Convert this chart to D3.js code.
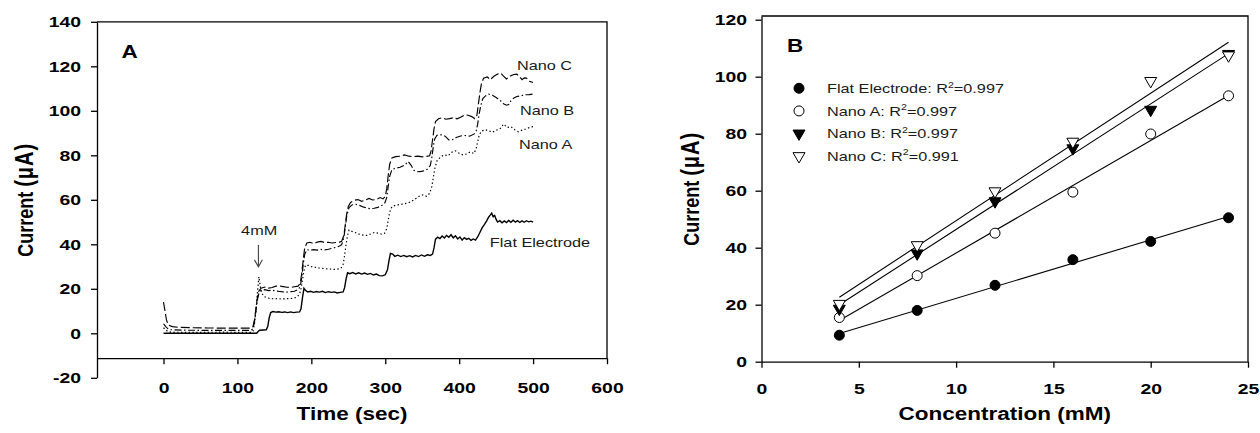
<!DOCTYPE html>
<html>
<head>
<meta charset="utf-8">
<script src="https://d3js.org/d3.v7.min.js"></script>
<style>
  body { margin: 0; background: #fff; }
  svg { display: block; font-family: "Liberation Sans", Arial, Helvetica, sans-serif; }
  .axis text { font-size: 15.5px; font-weight: bold; fill: #000; }
  .axis path, .axis line { stroke: #000; stroke-width: 1.3; }
  .title { font-size: 18px; font-weight: bold; }
  .note { font-size: 13px; fill: #1a1a1a; }
</style>
</head>
<body>
<div id="viz"></div>
<script>
// ---- panel A : current vs time traces, [time (s), current (uA)] ----
const flatTrace = [[0,0],[126,0],[128,0.8],[130,1.4],[135,1.5],[139,1.6],[141,3],[143,7],[145,9.3],[148,9.8],
  [152,9.5],[156,9.7],[160,9.4],[164,9.6],[168,9.3],[172,9.6],[176,9.3],[180,9.5],[184,9.6],[186,11],
  [188,16],[190,20.2],[192,19.3],[195,18.6],[199,18.9],[203,18.4],[207,18.8],[211,18.5],[215,18.9],[219,18.3],
  [223,18.7],[227,18.4],[231,18.6],[235,18.1],[239,18.4],[243,18.6],[245,20.5],[247,24.5],[249,27.2],[252,26.8],
  [256,27.3],[260,26.7],[264,27.2],[268,26.6],[272,27.1],[276,26.5],[280,26.9],[284,26.2],[288,26.6],[292,25.9],
  [296,25.8],[300,26.3],[303,28.5],[305,32.5],[307,35.9],[310,35.6],[313,34.6],[317,35.1],[321,34.5],[325,35.0],
  [329,34.4],[333,34.9],[337,34.3],[341,35.0],[345,34.5],[349,35.2],[353,34.6],[357,35.3],[361,35.0],[364,35.6],
  [366,38.5],[368,42.3],[371,43.2],[374,42.6],[377,43.7],[380,42.8],[383,44.0],[386,43.2],[389,44.3],[392,42.9],
  [395,43.8],[398,42.4],[401,43.3],[404,41.9],[407,43.0],[410,42.2],[413,42.7],[416,41.8],[419,42.4],[422,41.9],
  [425,43.3],[428,45.3],[431,47.4],[434,48.8],[437,50.4],[440,52.3],[442,53.1],[444,54.0],[446,52.4],[448,53.0],
  [450,51.2],[452,50.0],[455,50.6],[458,49.7],[461,50.5],[464,49.8],[467,50.7],[470,49.9],[473,50.8],[476,50.0],
  [479,50.6],[482,49.8],[485,50.5],[488,49.9],[491,50.6],[494,50.1],[497,50.4],[500,50.0]];

const nanoATrace = [[0,2.5],[3,1.5],[6,0.8],[10,0.5],[40,0.4],[80,0.5],[118,0.4],[121,1],[123,4],[125,10],
  [127,18],[129,25.4],[131,21],[133,18],[136,16.5],[140,16.0],[145,15.6],[150,15.5],[155,15.6],[160,15.4],
  [165,15.5],[170,15.6],[175,15.7],[180,16.2],[184,17.5],[186,20],[188,24],[190,28],[192,30.6],[196,30.5],
  [200,30.0],[205,29.7],[210,29.4],[215,29.2],[220,29.0],[225,28.9],[230,28.7],[235,28.8],[240,29.2],[243,31],
  [245,35],[247,40],[249,44],[251,46.4],[255,45.8],[260,45.2],[265,44.5],[270,44.1],[275,44.0],[280,44.6],
  [285,45.3],[290,45.0],[295,44.6],[299,45.0],[302,47],[304,51],[306,54.5],[309,56.9],[314,57.6],[320,57.9],
  [326,58.2],[331,58.6],[336,59.4],[341,60.5],[346,61.6],[351,62.2],[356,61.6],[360,62.9],[363,66],[365,70],
  [367,74],[370,77.5],[375,79.4],[380,80.2],[385,79.8],[390,81.4],[395,82.0],[400,80.9],[405,80.2],[410,80.6],
  [415,81.5],[420,80.8],[423,83],[425,86],[427,89],[430,90.8],[435,91.5],[440,91.0],[445,90.4],[450,91.3],
  [455,91.8],[460,94.0],[465,92.5],[470,92.9],[475,91.5],[480,90.6],[485,91.3],[490,91.8],[495,92.5],[500,92.9]];

const nanoBTrace = [[0,4.3],[3,3],[6,2],[10,1.6],[30,1.4],[60,1.3],[90,1.3],[118,1.3],[121,2],[123,5],
  [125,10],[127,15],[129,18],[132,19.4],[137,19.6],[142,19.2],[147,19.4],[152,19.0],[157,18.8],[162,18.6],
  [167,18.5],[172,18.7],[177,18.9],[182,19.6],[185,21],[187,25],[189,31],[191,35.5],[194,37.6],[198,37.3],
  [203,37.6],[208,37.4],[213,37.7],[218,37.5],[223,37.8],[228,38.2],[233,38.6],[238,39.2],[241,39.8],[244,43],
  [246,48],[248,53],[251,56.5],[255,57.7],[260,58.0],[265,57.5],[270,56.8],[275,56.3],[280,56.0],[285,56.2],
  [290,56.6],[295,57.4],[299,58.3],[302,61],[304,66],[306,70.5],[309,73.6],[314,74.2],[320,74.6],[326,75.5],
  [331,77.2],[335,75.5],[339,73.2],[344,72.6],[349,72.8],[354,73.2],[358,74.0],[361,75.5],[363,79],[365,84],
  [367,87.5],[370,89.0],[376,89.2],[381,88.6],[386,86.9],[391,87.0],[396,88.0],[402,88.7],[408,88.9],[414,88.6],
  [420,89.5],[423,91],[425,94],[427,98.5],[429,102],[432,105.5],[436,106.8],[440,107.5],[445,107.0],[450,106.0],
  [455,104.8],[460,103.2],[464,102.5],[467,102.8],[470,104.5],[474,105.8],[478,106.4],[484,106.8],[490,107.2],
  [495,107.3],[500,107.5]];

const nanoCTrace = [[0,14],[2,10],[4,6],[6,4.2],[8,3.5],[12,3.0],[20,2.7],[40,2.5],[60,2.4],[80,2.3],
  [100,2.3],[118,2.3],[121,3],[123,6],[125,11],[127,16],[129,19],[132,20.3],[137,20.8],[142,20.3],
  [147,20.6],[152,21.2],[157,21.3],[162,21.0],[167,20.7],[172,20.6],[177,20.9],[182,21.2],[185,22.5],[187,27],
  [189,33],[191,38.5],[194,40.6],[198,40.9],[203,40.3],[208,41.0],[213,41.3],[218,40.8],[223,40.9],[228,40.6],
  [233,40.8],[238,41.0],[241,41.4],[244,44],[246,49],[248,54],[250,57],[253,58.8],[258,59.8],[263,60.1],
  [268,59.3],[273,59.8],[278,60.6],[283,59.9],[288,60.1],[293,61.0],[297,60.4],[300,61.5],[302,65],[304,71],
  [306,76],[309,78.8],[314,79.4],[320,79.6],[326,80.2],[332,79.6],[338,79.4],[344,79.6],[350,79.3],[356,79.5],
  [360,79.8],[362,82],[364,87],[366,92],[368,95.2],[372,96.4],[377,96.9],[382,96.2],[387,96.5],[392,96.9],
  [397,96.4],[402,97.1],[407,98.1],[412,98.0],[417,97.4],[421,96.5],[424,98],[426,103],[428,108],[430,112],
  [433,114.7],[438,115.2],[442,114.0],[447,115.5],[452,116.5],[456,117.0],[460,115.6],[464,114.3],[469,115.6],
  [474,116.3],[478,116.5],[482,115.2],[485,114.0],[488,114.8],[491,114.7],[495,113.3],[500,112.7]];

const timeTicks = [0, 100, 200, 300, 400, 500, 600];
const currentTicksA = [-20, 0, 20, 40, 60, 80, 100, 120, 140];

// ---- panel B : calibration points ----
const concentrations = [4, 8, 12, 16, 20, 24];
const flatPoints  = [9.3, 18.0, 26.8, 35.8, 42.2, 50.5];
const nanoAPoints = [15.5, 30.2, 45.1, 59.5, 79.9, 93.3];
const nanoBPoints = [18.6, 38.0, 56.3, 74.9, 88.4, 108.0];
const nanoCPoints = [20.3, 40.9, 59.8, 77.2, 98.5, 107.5];
const seriesNames = ["Flat Electrode", "Nano A", "Nano B", "Nano C"];
const r2Values = ["0.997", "0.997", "0.997", "0.991"];
const concTicks = [0, 5, 10, 15, 20, 25];
const currentTicksB = [0, 20, 40, 60, 80, 100, 120];

const WIDE = 1.25; // the source picture is stretched sideways, lettering too
const plain = d => String(d); // hyphen minus like the original, not U+2212

const svg = d3.select("#viz").append("svg")
  .attr("width", 1260).attr("height", 433);

function widen(sel) {
  sel.each(function () {
    const t = d3.select(this);
    const x = +t.attr("x") || 0, y = +t.attr("y") || 0;
    t.attr("x", null).attr("y", null)
      .attr("transform", `translate(${x},${y}) scale(${WIDE},1)`);
  });
}

function text(g, x, y, cls, str, anchor) {
  return g.append("text").attr("class", cls)
    .attr("text-anchor", anchor || "start")
    .attr("transform", `translate(${x},${y}) scale(${WIDE},1)`)
    .text(str);
}

function yTitle(x, y) {
  const t = svg.append("text").attr("class", "title").attr("text-anchor", "middle")
    .attr("transform", `translate(${x},${y}) scale(${WIDE},1) rotate(-90)`);
  t.append("tspan").text("Current ");
  t.append("tspan").attr("font-size", 20).attr("letter-spacing", 1).text("(\u03bcA)");
}

// ================= Panel A =================
const xA = d3.scaleLinear().domain([-90, 600]).range([97, 607]);
const yA = d3.scaleLinear().domain([-20, 140]).range([377.8, 21.8]);
const axisV = -11.2; // x axis sits a little below zero

const gA = svg.append("g");

gA.append("g").attr("class", "axis")
  .attr("transform", `translate(0,${yA(axisV)})`)
  .call(d3.axisBottom(xA).tickValues(timeTicks).tickFormat(plain).tickSizeOuter(0).tickPadding(17.5))
  .selectAll("text").call(widen);

gA.append("g").attr("class", "axis")
  .attr("transform", `translate(${xA(-90)},0)`)
  .call(d3.axisLeft(yA).tickValues(currentTicksA).tickFormat(plain).tickSizeOuter(0).tickPadding(10))
  .selectAll("text").call(widen);

gA.append("path")
  .attr("d", `M${xA(-90)},${yA(140)}H${xA(600)}V${yA(axisV)}`)
  .attr("fill", "none").attr("stroke", "#000").attr("stroke-width", 1.3);

const lineA = d3.line().x(d => xA(d[0])).y(d => yA(d[1]));
const traces = [
  { data: nanoATrace, dash: "1.4,2.4", w: 1.2 },
  { data: nanoBTrace, dash: "7,2.5,1.5,2.5", w: 1.15 },
  { data: nanoCTrace, dash: "9,3", w: 1.15 },
  { data: flatTrace, dash: null, w: 1.4 }
];
gA.selectAll(".trace").data(traces).enter().append("path")
  .attr("class", "trace")
  .attr("d", d => lineA(d.data))
  .attr("fill", "none").attr("stroke", "#000")
  .attr("stroke-width", d => d.w)
  .attr("stroke-dasharray", d => d.dash);

text(gA, xA(-57), yA(123.9), "title", "A").attr("font-size", 18);
text(gA, xA(478.2), yA(118.3), "note", "Nano C");
text(gA, xA(482.2), yA(98.1), "note", "Nano B");
text(gA, xA(480.9), yA(82.8), "note", "Nano A");
text(gA, xA(441.5), yA(38.9), "note", "Flat Electrode");
text(gA, xA(129.4), yA(44.2), "note", "4mM", "middle");

// arrow marking the first 4mM addition
const ax = xA(128.4), ay0 = yA(39.7), ay1 = yA(29.9);
gA.append("path")
  .attr("d", `M${ax},${ay0}V${ay1}M${ax - 4},${ay1 - 7}L${ax},${ay1}L${ax + 4},${ay1 - 7}`)
  .attr("fill", "none").attr("stroke", "#444").attr("stroke-width", 1.1);

text(svg, (xA(-90) + xA(600)) / 2, 420, "title", "Time (sec)", "middle");
yTitle(33, (yA(-20) + yA(140)) / 2);

// ================= Panel B =================
const xB = d3.scaleLinear().domain([0, 25]).range([761.5, 1248]);
const yB = d3.scaleLinear().domain([0, 121.3]).range([361.7, 16]);

const gB = svg.append("g");

gB.append("g").attr("class", "axis")
  .attr("transform", `translate(0,${yB(0)})`)
  .call(d3.axisBottom(xB).tickValues(concTicks).tickFormat(plain).tickSizeOuter(0).tickPadding(15.5))
  .selectAll("text").call(widen);

gB.append("g").attr("class", "axis")
  .attr("transform", `translate(${xB(0)},0)`)
  .call(d3.axisLeft(yB).tickValues(currentTicksB).tickFormat(plain).tickSizeOuter(0).tickPadding(8.5))
  .selectAll("text").call(widen);

gB.append("path")
  .attr("d", `M${xB(0)},${yB(121.3)}H${xB(25)}V${yB(0)}`)
  .attr("fill", "none").attr("stroke", "#000").attr("stroke-width", 1.3);

const pointSets = [flatPoints, nanoAPoints, nanoBPoints, nanoCPoints];

// least-squares fit lines through each calibration set
function fit(ys) {
  const mx = d3.mean(concentrations), my = d3.mean(ys);
  const sxy = d3.sum(concentrations, (x, i) => (x - mx) * (ys[i] - my));
  const sxx = d3.sum(concentrations, x => (x - mx) * (x - mx));
  const b = sxy / sxx;
  return x => my + b * (x - mx);
}
const x0 = d3.min(concentrations), x1 = d3.max(concentrations);
gB.selectAll(".fit").data(pointSets).enter().append("line")
  .attr("class", "fit")
  .attr("x1", xB(x0)).attr("x2", xB(x1))
  .attr("y1", d => yB(fit(d)(x0)))
  .attr("y2", d => yB(fit(d)(x1)))
  .attr("stroke", "#000").attr("stroke-width", 1.1);

const styles = [
  { shape: "circle", fill: "#000" },
  { shape: "circle", fill: "#fff" },
  { shape: "tri", fill: "#000" },
  { shape: "tri", fill: "#fff" }
];
const tri = d3.symbol().type(d3.symbolTriangle).size(62)();

function marker(g, st, x, y) {
  if (st.shape === "circle") {
    g.append("circle").attr("cx", x).attr("cy", y).attr("r", 5)
      .attr("fill", st.fill).attr("stroke", "#000").attr("stroke-width", 1);
  } else {
    g.append("path").attr("d", tri)
      .attr("transform", `translate(${x},${y}) rotate(180)`)
      .attr("fill", st.fill).attr("stroke", "#000").attr("stroke-width", 1);
  }
}

pointSets.forEach((ys, s) => {
  ys.forEach((v, i) => marker(gB, styles[s], xB(concentrations[i]), yB(v)));
});

// legend
seriesNames.forEach((name, i) => {
  const cy = 88.3 + i * 22.6;
  marker(gB, styles[i], 799, cy);
  const t = gB.append("text").attr("class", "note")
    .attr("transform", `translate(827,${cy + 4.8}) scale(${WIDE},1)`);
  t.append("tspan").text(name + ": R");
  t.append("tspan").attr("dy", -5.5).attr("font-size", 8.5).text("2");
  t.append("tspan").attr("dy", 5.5).text("=" + r2Values[i]);
});

text(gB, 787, 52, "title", "B");
text(svg, (xB(0) + xB(25)) / 2, 420, "title", "Concentration (mM)", "middle");
yTitle(699, (yB(0) + yB(121.3)) / 2);
</script>
</body>
</html>
